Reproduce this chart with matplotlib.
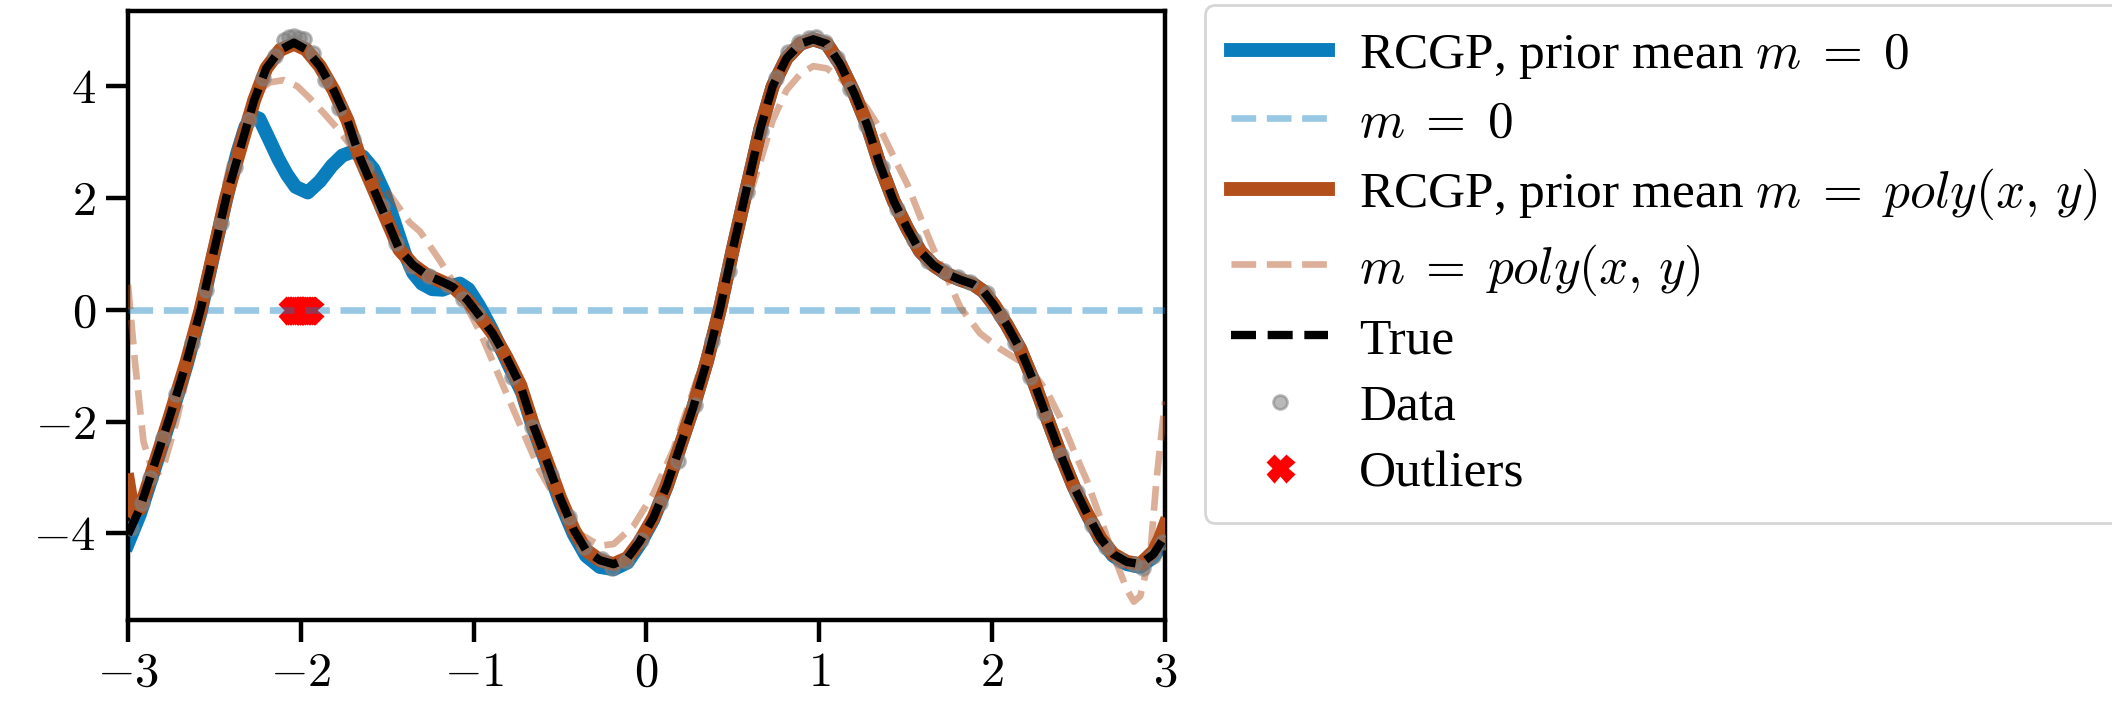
"""
RCGP fits with two prior means (m = 0 and m = poly(x, y)) on data with a few outliers.
Values read off the reference picture.
"""

import matplotlib.pyplot as plt
from matplotlib.ticker import FuncFormatter

plt.rcParams["font.family"] = ["Liberation Serif", "DejaVu Serif"]
plt.rcParams["mathtext.fontset"] = "cm"

# True function
true_x = [-3.00, -2.93, -2.85, -2.76, -2.66, -2.58, -2.51, -2.43, -2.35, -2.27,
          -2.20, -2.12, -2.04, -1.97, -1.89, -1.81, -1.73, -1.66, -1.58, -1.50,
          -1.43, -1.35, -1.27, -1.195, -1.12, -1.04, -0.96, -0.89, -0.81, -0.73,
          -0.655, -0.58, -0.50, -0.42, -0.35, -0.27, -0.19, -0.11, -0.04, 0.04,
          0.117, 0.194, 0.27, 0.35, 0.425, 0.50, 0.58, 0.66, 0.73, 0.81,
          0.89, 0.965, 1.043, 1.12, 1.20, 1.275, 1.35, 1.43, 1.51, 1.583,
          1.66, 1.737, 1.814, 1.89, 1.95, 2.008, 2.085, 2.162, 2.24, 2.317,
          2.394, 2.47, 2.55, 2.625, 2.70, 2.78, 2.857, 2.934, 3.00]
true_y = [-4.02, -3.54, -2.79, -1.93, -0.92, 0.00, 0.95, 2.03, 2.89, 3.75,
          4.32, 4.65, 4.78, 4.66, 4.36, 3.93, 3.39, 2.74, 2.17, 1.59,
          1.08, 0.80, 0.62, 0.52, 0.41, 0.19, -0.13, -0.42, -0.85, -1.35,
          -2.07, -2.68, -3.36, -3.94, -4.30, -4.48, -4.55, -4.44, -4.15, -3.72,
          -3.15, -2.45, -1.75, -0.92, 0.01, 1.09, 2.17, 3.25, 4.00, 4.50,
          4.76, 4.84, 4.76, 4.40, 3.89, 3.32, 2.60, 1.95, 1.45, 1.05,
          0.80, 0.64, 0.54, 0.46, 0.33, 0.10, -0.27, -0.70, -1.28, -1.93,
          -2.57, -3.15, -3.65, -4.08, -4.37, -4.51, -4.55, -4.37, -4.05]

# RCGP with prior mean m = 0
rcgp0_x = [-3.00, -2.93, -2.85, -2.76, -2.66, -2.58, -2.51, -2.43, -2.37, -2.32,
           -2.28, -2.24, -2.18, -2.13, -2.08, -2.03, -1.96, -1.89, -1.82, -1.76,
           -1.70, -1.64, -1.58, -1.52, -1.46, -1.40, -1.35, -1.30, -1.24, -1.18,
           -1.13, -1.08, -1.03, -0.97, -0.90, -0.85, -0.78, -0.72, -0.655, -0.58,
           -0.50, -0.42, -0.35, -0.27, -0.19, -0.11, -0.04, 0.04, 0.117, 0.194,
           0.27, 0.35, 0.425, 0.50, 0.58, 0.66, 0.73, 0.81, 0.89, 0.965,
           1.043, 1.12, 1.20, 1.275, 1.35, 1.43, 1.51, 1.583, 1.66, 1.737,
           1.814, 1.89, 1.95, 2.008, 2.085, 2.162, 2.24, 2.317, 2.394, 2.47,
           2.55, 2.625, 2.70, 2.78, 2.857, 2.934, 3.00]
rcgp0_y = [-4.18, -3.65, -2.88, -2.00, -0.98, -0.05, 0.92, 2.00, 2.78, 3.28,
           3.47, 3.42, 3.03, 2.70, 2.42, 2.20, 2.10, 2.30, 2.58, 2.76,
           2.83, 2.74, 2.52, 2.12, 1.58, 1.02, 0.66, 0.47, 0.37, 0.36,
           0.42, 0.47, 0.37, 0.08, -0.32, -0.64, -1.10, -1.48, -2.12, -2.74,
           -3.44, -4.02, -4.40, -4.60, -4.64, -4.52, -4.20, -3.75, -3.16, -2.45,
           -1.75, -0.92, 0.01, 1.09, 2.17, 3.25, 4.00, 4.50, 4.76, 4.84,
           4.76, 4.40, 3.89, 3.32, 2.60, 1.95, 1.45, 1.05, 0.80, 0.64,
           0.54, 0.46, 0.33, 0.10, -0.27, -0.70, -1.28, -1.93, -2.57, -3.15,
           -3.66, -4.10, -4.40, -4.55, -4.60, -4.42, -4.12]

# RCGP with prior mean m = poly(x, y)
rcgpp_x = [-3.00, -2.97, -2.93, -2.85, -2.76, -2.66, -2.58, -2.51, -2.43, -2.35,
           -2.27, -2.20, -2.12, -2.04, -1.97, -1.89, -1.81, -1.73, -1.66, -1.58,
           -1.50, -1.43, -1.35, -1.27, -1.195, -1.12, -1.04, -0.96, -0.89, -0.81,
           -0.73, -0.655, -0.58, -0.50, -0.42, -0.35, -0.27, -0.19, -0.11, -0.04,
           0.04, 0.117, 0.194, 0.27, 0.35, 0.425, 0.50, 0.58, 0.66, 0.73,
           0.81, 0.89, 0.965, 1.043, 1.12, 1.20, 1.275, 1.35, 1.43, 1.51,
           1.583, 1.66, 1.737, 1.814, 1.89, 1.95, 2.008, 2.085, 2.162, 2.24,
           2.317, 2.394, 2.47, 2.55, 2.625, 2.70, 2.78, 2.857, 2.934, 2.97, 3.00]
rcgpp_y = [-3.05, -3.62, -3.56, -2.80, -1.93, -0.92, 0.00, 0.95, 2.03, 2.89,
           3.75, 4.32, 4.65, 4.76, 4.66, 4.36, 3.93, 3.39, 2.74, 2.17,
           1.59, 1.08, 0.80, 0.62, 0.52, 0.41, 0.19, -0.13, -0.42, -0.85,
           -1.35, -2.07, -2.68, -3.36, -3.94, -4.30, -4.48, -4.55, -4.44, -4.15,
           -3.72, -3.15, -2.45, -1.75, -0.92, 0.01, 1.09, 2.17, 3.25, 4.00,
           4.50, 4.76, 4.84, 4.76, 4.40, 3.89, 3.32, 2.60, 1.95, 1.45,
           1.05, 0.80, 0.64, 0.54, 0.46, 0.33, 0.10, -0.27, -0.70, -1.28,
           -1.93, -2.57, -3.15, -3.65, -4.08, -4.37, -4.51, -4.55, -4.32, -4.10, -3.85]

# polynomial prior mean
poly_x = [-3.00, -2.96, -2.91, -2.85, -2.80, -2.72, -2.64, -2.56, -2.49, -2.41,
          -2.33, -2.26, -2.18, -2.10, -2.02, -1.95, -1.87, -1.79, -1.70, -1.58,
          -1.46, -1.37, -1.31, -1.195, -1.08, -0.96, -0.85, -0.73, -0.62, -0.50,
          -0.385, -0.27, -0.19, -0.076, 0.04, 0.156, 0.25, 0.35, 0.425, 0.50,
          0.58, 0.66, 0.73, 0.81, 0.89, 0.965, 1.043, 1.12, 1.20, 1.275,
          1.35, 1.43, 1.51, 1.583, 1.66, 1.737, 1.815, 1.93, 2.047, 2.162,
          2.24, 2.317, 2.394, 2.47, 2.55, 2.625, 2.70, 2.78, 2.82, 2.857,
          2.915, 2.95, 3.00]
poly_y = [0.45, -0.92, -2.36, -2.97, -2.86, -2.00, -0.92, 0.30, 1.52, 2.60,
          3.39, 3.89, 4.07, 4.11, 4.00, 3.79, 3.53, 3.25, 2.89, 2.46,
          1.95, 1.56, 1.40, 0.88, 0.30, -0.42, -1.21, -2.07, -2.86, -3.51,
          -4.01, -4.22, -4.19, -3.87, -3.29, -2.50, -1.64, -0.70, 0.20, 1.09,
          1.88, 2.67, 3.39, 3.93, 4.22, 4.36, 4.32, 4.15, 3.89, 3.61,
          3.25, 2.74, 2.24, 1.67, 1.09, 0.59, 0.05, -0.42, -0.70, -0.92,
          -1.14, -1.46, -1.93, -2.50, -3.07, -3.72, -4.37, -5.01, -5.22, -5.12,
          -4.37, -3.07, -1.64]

# observed data (gray dots)
data_x = [-2.98, -2.92, -2.87, -2.80, -2.72, -2.63, -2.55, -2.46, -2.38, -2.30,
          -2.22, -2.15, -2.10, -2.07, -2.04, -2.01, -1.98, -1.93, -1.86, -1.78,
          -1.70, -1.62, -1.53, -1.45, -1.36, -1.26, -1.15, -1.06, -0.98, -0.88,
          -0.78, -0.66, -0.55, -0.45, -0.36, -0.26, -0.20, -0.12, -0.03, 0.08,
          0.18, 0.28, 0.38, 0.48, 0.58, 0.66, 0.75, 0.82, 0.88, 0.94,
          0.98, 1.03, 1.10, 1.18, 1.27, 1.36, 1.45, 1.55, 1.63, 1.72,
          1.80, 1.87, 1.97, 2.05, 2.13, 2.22, 2.30, 2.40, 2.49, 2.58,
          2.66, 2.74, 2.82, 2.87, 2.93, 2.99]
data_y = [-3.90, -3.45, -3.00, -2.30, -1.50, -0.60, 0.35, 1.55, 2.55, 3.40,
          4.15, 4.55, 4.82, 4.88, 4.90, 4.86, 4.84, 4.60, 4.12, 3.62,
          3.05, 2.55, 1.85, 1.20, 0.78, 0.60, 0.45, 0.20, -0.05, -0.60,
          -1.20, -2.10, -2.95, -3.70, -4.25, -4.45, -4.62, -4.50, -4.12, -3.45,
          -2.70, -1.70, -0.55, 0.70, 2.10, 3.20, 4.15, 4.62, 4.80, 4.87,
          4.88, 4.80, 4.50, 3.95, 3.30, 2.55, 1.80, 1.25, 0.88, 0.70,
          0.58, 0.50, 0.30, -0.10, -0.60, -1.20, -1.85, -2.60, -3.25, -3.85,
          -4.25, -4.48, -4.55, -4.62, -4.40, -4.15]

# outliers, all placed at y = 0
outlier_x = [-2.05, -2.04, -2.03, -2.02, -2.01, -2.00, -1.99, -1.98, -1.97, -1.96, -1.95]
outlier_y = [0.0, 0.0, 0.0, 0.0, 0.0, 0.0, 0.0, 0.0, 0.0, 0.0, 0.0]

BLUE = "#0a7dbd"
BROWN = "#b24f1b"

fig = plt.figure(figsize=(10.56, 3.605), dpi=200)
ax = fig.add_axes([0.0606, 0.140, 0.491, 0.845])

h_out, = ax.plot(outlier_x, outlier_y, "X", color="red", markersize=9,
                 linestyle="none", zorder=1)
h_r0, = ax.plot(rcgp0_x, rcgp0_y, color=BLUE, lw=5, zorder=2)
h_m0 = ax.axhline(0.0, color=BLUE, alpha=0.42, lw=2.4, ls="--", zorder=3)
h_rp, = ax.plot(rcgpp_x, rcgpp_y, color=BROWN, lw=5, zorder=4)
h_mp, = ax.plot(poly_x, poly_y, color=BROWN, alpha=0.45, lw=2.4, ls="--", zorder=5)
h_dat, = ax.plot(data_x, data_y, "o", color="gray", alpha=0.55, markersize=5,
                 linestyle="none", zorder=6)
h_true, = ax.plot(true_x, true_y, color="black", lw=3, ls="--", dashes=(3.0, 1.4),
                  zorder=7)

ax.set_xlim(-3, 3)
ax.set_ylim(-5.55, 5.35)
ax.set_xticks([-3, -2, -1, 0, 1, 2, 3])
ax.set_yticks([-4, -2, 0, 2, 4])
fmt = FuncFormatter(lambda v, pos: f"${v:g}$")
ax.xaxis.set_major_formatter(fmt)
ax.yaxis.set_major_formatter(fmt)
ax.tick_params(labelsize=17.5, length=8, width=1.6)
for sp in ax.spines.values():
    sp.set_linewidth(1.6)

fig.legend([h_r0, h_m0, h_rp, h_mp, h_true, h_dat, h_out],
           [r"RCGP, prior mean $m\;=\;0$",
            r"$m\;=\;0$",
            r"RCGP, prior mean $m\;=\;poly(x,\,y)$",
            r"$m\;=\;poly(x,\,y)$",
            "True", "Data", "Outliers"],
           loc="upper left", bbox_to_anchor=(0.5706, 0.993), borderaxespad=0,
           fontsize=18.5, handlelength=1.9, handletextpad=0.6, labelspacing=0.38,
           borderpad=0.5)

fig.savefig("out.png", dpi=200)
